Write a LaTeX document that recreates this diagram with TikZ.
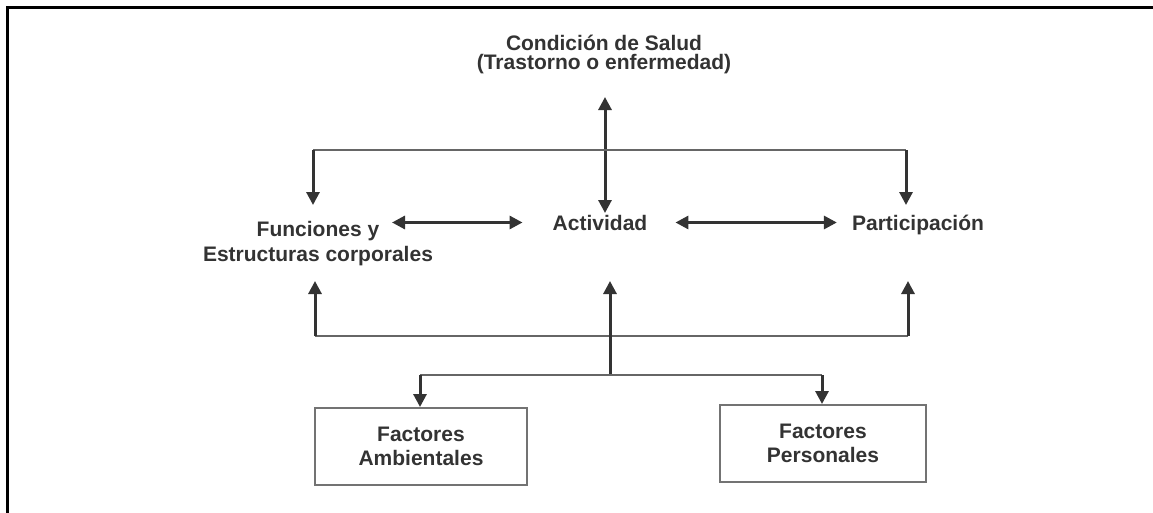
\documentclass[tikz,border=0pt]{standalone}
\usepackage{fontspec}
\setmainfont{Liberation Sans}
\usetikzlibrary{arrows.meta}
\begin{document}
\begin{tikzpicture}[x=1pt,y=-1pt,
  lbl/.style={text=black!80, inner sep=0pt, align=center},
  fnt/.style={font=\fontsize{21}{#1}\selectfont\bfseries},
  fbox/.style={lbl, draw=black!55, line width=2pt, minimum width=#1, minimum height=77pt},
  ln/.style={draw=black!60, line width=2.5pt},
  arr/.style={draw=black!80, line width=3pt, -{Triangle[length=13pt,width=13pt]}},
  dbl/.style={draw=black!80, line width=3pt, {Triangle[length=13pt,width=13pt]}-{Triangle[length=13pt,width=13pt]}}
]
\useasboundingbox (0,0) rectangle (1153,512);
% frame
\draw[line width=3pt, line cap=rect] (7.5,512) -- (7.5,7.5) -- (1153,7.5);

% nodes
\node[lbl, fnt=19] (cs) at (604,54) {Condición de Salud\\(Trastorno o enfermedad)};
\node[lbl, fnt=25] (fe) at (318,244) {Funciones y\\Estructuras corporales};
\node[lbl, fnt=20, anchor=base] (act) at (600,230) {Actividad};
\node[lbl, fnt=20, anchor=base] (par) at (918,230) {Participación};
\node[fbox=212pt, fnt=24] (fa) at (421,446.5) {Factores\\Ambientales};
\node[fbox=206pt, fnt=24] (fp) at (823,443.5) {Factores\\Personales};

% junctions
\coordinate (tl) at (313,150);
\coordinate (tr) at (906,150);
\coordinate (bl) at (315,336);
\coordinate (br) at (908,336);
\coordinate (lm) at (610,375);
\coordinate (ll) at (420,375);
\coordinate (lr) at (822,375);

% health condition <-> activity
\draw[dbl] ([yshift=-43pt]cs.center -| 605,0) -- ([yshift=17pt]605,0 |- act.base);

% top bracket
\draw[ln] (tl) -- (tr);
\draw[arr] (tl) -- ([yshift=39pt]tl |- fe.center);
\draw[arr] (tr) -- ([yshift=25pt]tr |- par.base);

% horizontal double arrows
\draw[dbl] ([xshift=74pt]fe.center |- act.center) -- ([xshift=-30pt]act.west);
\draw[dbl] ([xshift=28pt]act.east) -- ([xshift=-15pt]par.west |- act.east);

% bottom bracket
\draw[ln] (bl) -- (br);
\draw[arr] (bl) -- ([yshift=-37pt]bl |- fe.center);
\draw[arr] (br) -- ([yshift=-51pt]br |- par.base);
\draw[arr] (lm) -- ([yshift=-51pt]lm |- act.base);

% lower bracket to factor boxes
\draw[ln] (ll) -- (lr);
\draw[arr] (ll) -- (ll |- fa.north);
\draw[arr] (lr) -- (lr |- fp.north);
\end{tikzpicture}
\end{document}
